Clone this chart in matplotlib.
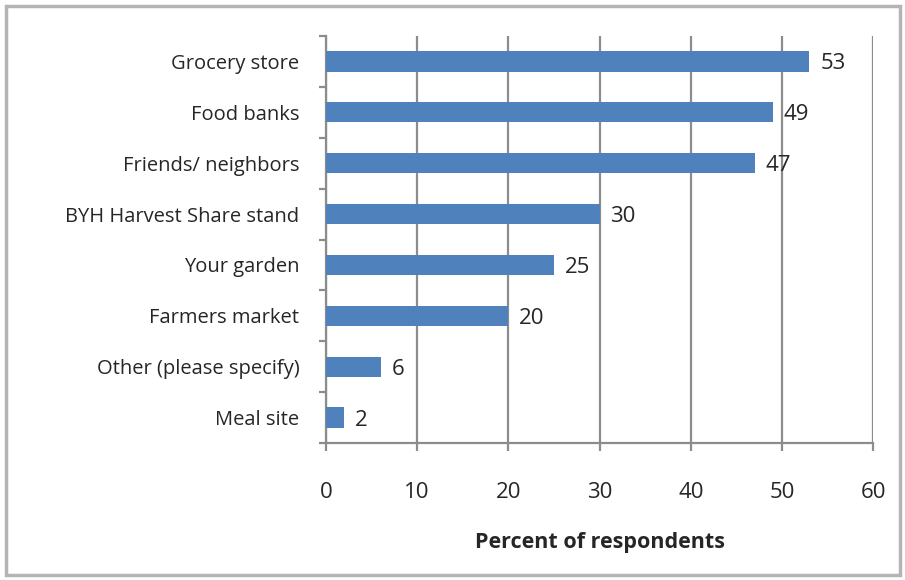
import numpy as np
import matplotlib.pyplot as plt
from matplotlib.patches import Rectangle
from matplotlib.ticker import FixedLocator

plt.rcParams['font.family'] = ['Open Sans', 'DejaVu Sans']

# Where respondents get their food
sources = ["Grocery store", "Food banks", "Friends/ neighbors", "BYH Harvest Share stand",
           "Your garden", "Farmers market", "Other (please specify)", "Meal site"]
percents = [53, 49, 47, 30, 25, 20, 6, 2]

grid_col = "#8c8c8c"
bar_col = "#4f81bd"
txt_col = "#262626"

fig = plt.figure(figsize=(9.05, 5.8), dpi=100)
ax = fig.add_axes([0.360, 0.236, 0.605, 0.702])

# outer chart frame
fig.patches.append(Rectangle((0.007, 0.009), 0.987, 0.981, transform=fig.transFigure,
                             fill=False, edgecolor="#b4b4b4", linewidth=2.5))

y = np.arange(len(sources))
ax.barh(y, percents, height=0.4, color=bar_col, zorder=3)
for yi, v in zip(y, percents):
    ax.text(v + 1.2, yi, str(v), va="center_baseline", ha="left", fontsize=16, color=txt_col, zorder=4)

ax.set_xlim(0, 60)
ax.set_ylim(len(sources) - 0.5, -0.5)
ax.set_xticks(range(0, 61, 10))
ax.set_yticks(y)
ax.set_yticklabels(sources)
ax.yaxis.set_minor_locator(FixedLocator(np.arange(-0.5, len(sources), 1)))

ax.grid(axis="x", color=grid_col, linewidth=1.6, zorder=0)
for s in ["top", "right"]:
    ax.spines[s].set_visible(False)
for s in ["left", "bottom"]:
    ax.spines[s].set_color(grid_col)
    ax.spines[s].set_linewidth(1.6)

ax.tick_params(axis="x", length=6, width=1.6, color=grid_col, pad=22, labelsize=16, labelcolor=txt_col)
ax.tick_params(axis="y", which="major", length=0, pad=19, labelsize=14.5, labelcolor=txt_col)
ax.tick_params(axis="y", which="minor", length=5, width=1.6, color=grid_col)

ax.set_xlabel("Percent of respondents", fontsize=15.5, fontweight="bold", color=txt_col, labelpad=21)

fig.savefig("out.png", dpi=100)
